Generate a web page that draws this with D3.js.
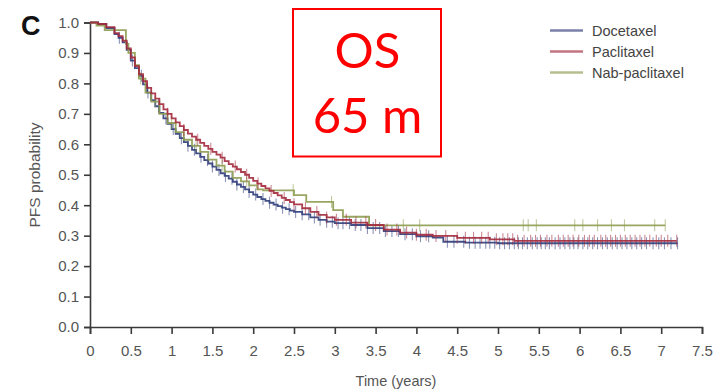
<!DOCTYPE html>
<html>
<head>
<meta charset="utf-8">
<script src="https://cdn.jsdelivr.net/npm/d3@7"></script>
<style>
  html, body { margin: 0; padding: 0; background: #fff; }
  svg { display: block; }
</style>
</head>
<body>
<svg id="chart" width="713" height="390"></svg>
<script>
// ---------- data ----------
const seriesNames = ["Docetaxel", "Paclitaxel", "Nab-paclitaxel"];

const docetaxelSteps = [
  [0,1.0],[0.1,0.995],[0.2,0.982],[0.3,0.962],[0.35,0.95],[0.4,0.935],[0.45,0.91],[0.5,0.875],
  [0.55,0.85],[0.6,0.825],[0.65,0.797],[0.7,0.77],[0.75,0.745],[0.8,0.725],[0.85,0.703],
  [0.9,0.685],[0.95,0.667],[1.0,0.65],[1.05,0.634],[1.1,0.62],[1.15,0.607],[1.2,0.595],
  [1.25,0.582],[1.3,0.57],[1.35,0.559],[1.4,0.548],[1.45,0.537],[1.5,0.527],[1.55,0.516],
  [1.6,0.505],[1.65,0.496],[1.7,0.487],[1.75,0.477],[1.8,0.468],[1.85,0.46],[1.9,0.452],
  [1.95,0.443],[2.0,0.435],[2.05,0.427],[2.1,0.42],[2.15,0.414],[2.2,0.408],[2.25,0.402],
  [2.3,0.397],[2.35,0.392],[2.4,0.387],[2.45,0.382],[2.5,0.378],[2.6,0.37],[2.7,0.36],
  [2.8,0.352],[2.9,0.346],[3.0,0.341],[3.2,0.335],[3.4,0.325],[3.6,0.315],[3.8,0.305],
  [4.0,0.298],[4.2,0.294],[4.33,0.28],[4.6,0.277],[5.0,0.275],[7.2,0.275]
];
const paclitaxelSteps = [
  [0,1.0],[0.1,0.995],[0.2,0.985],[0.3,0.965],[0.35,0.955],[0.4,0.94],[0.45,0.915],[0.5,0.885],
  [0.55,0.857],[0.6,0.83],[0.65,0.807],[0.7,0.785],[0.75,0.767],[0.8,0.75],[0.85,0.732],
  [0.9,0.715],[0.95,0.7],[1.0,0.685],[1.05,0.672],[1.1,0.66],[1.15,0.647],[1.2,0.635],
  [1.25,0.625],[1.3,0.615],[1.35,0.605],[1.4,0.595],[1.45,0.585],[1.5,0.575],[1.55,0.566],
  [1.6,0.556],[1.65,0.545],[1.7,0.535],[1.75,0.527],[1.8,0.518],[1.85,0.509],[1.9,0.5],
  [1.95,0.49],[2.0,0.48],[2.05,0.471],[2.1,0.463],[2.15,0.455],[2.2,0.447],[2.25,0.44],
  [2.3,0.432],[2.35,0.424],[2.4,0.417],[2.45,0.41],[2.5,0.403],[2.6,0.39],[2.7,0.378],
  [2.8,0.368],[2.9,0.36],[3.0,0.352],[3.2,0.343],[3.4,0.335],[3.6,0.32],[3.8,0.31],
  [4.0,0.303],[4.2,0.299],[4.5,0.293],[4.9,0.288],[5.2,0.283],[7.19,0.283]
];
const nabPaclitaxelSteps = [
  [0,1.0],[0.08,0.99],[0.18,0.975],[0.44,0.93],[0.47,0.9],[0.55,0.86],[0.6,0.816],
  [0.68,0.77],[0.75,0.74],[0.85,0.7],[0.95,0.67],[1.05,0.64],[1.15,0.615],[1.25,0.595],
  [1.35,0.575],[1.45,0.55],[1.55,0.53],[1.65,0.51],[1.75,0.49],[1.85,0.478],[1.95,0.465],
  [2.05,0.452],[2.12,0.449],[2.5,0.433],[2.65,0.411],[2.98,0.384],[3.1,0.362],
  [3.42,0.334],[7.05,0.334]
];

const docetaxelCensor = [0.36,0.52,0.63,0.71,0.84,0.93,1.02,1.12,1.2,1.28,1.36,1.44,1.5,1.58,
  1.66,1.74,1.8,1.88,1.95,2.03,2.12,2.2,2.28,2.36,2.44,2.52,2.6,2.68,2.75,2.82,2.9,2.97,
  3.04,3.1,3.18,3.25,3.32,3.4,3.47,3.55,3.62,3.7,3.78,3.86,3.95,4.05,4.15,4.38,4.46,4.58,
  4.65,4.72,4.78,4.85,4.9,4.96,5.02,5.08,5.14,5.2,5.25,5.3,5.36,5.42,5.48,5.53,5.58,5.63,
  5.7,5.76,5.82,5.88,5.93,5.98,6.04,6.1,6.16,6.22,6.28,6.34,6.4,6.46,6.52,6.58,6.64,6.7,
  6.76,6.82,6.9,6.97,7.04,7.12,7.2];
const paclitaxelCensor = [0.95,1.15,1.32,1.48,1.62,1.78,1.92,2.06,2.22,2.38,2.5,2.64,2.78,
  2.9,3.02,3.14,3.26,3.38,3.5,3.64,3.76,3.88,4.0,4.12,4.24,4.36,4.5,4.6,4.7,4.8,4.88,4.98,
  5.06,5.12,5.18,5.24,5.32,5.4,5.46,5.52,5.6,5.66,5.74,5.8,5.86,5.92,5.99,6.06,6.12,6.18,
  6.26,6.32,6.38,6.44,6.5,6.56,6.62,6.68,6.74,6.8,6.86,6.94,7.0,7.08,7.19];
const nabPaclitaxelCensor = [0.62,0.8,1.0,1.3,1.62,1.92,2.49,2.96,3.84,4.04,5.31,5.37,5.47,
  5.94,6.04,6.22,6.39,6.55,6.92,7.05];

const xTicks = [0,0.5,1,1.5,2,2.5,3,3.5,4,4.5,5,5.5,6,6.5,7,7.5];
const yTicks = [0,0.1,0.2,0.3,0.4,0.5,0.6,0.7,0.8,0.9,1.0];

const panelLabel = "C";
const xTitle = "Time (years)";
const yTitle = "PFS probability";
const boxLines = ["OS", "65 m"];

// ---------- drawing ----------
const colors = ["#2f3c7a", "#a3293c", "#8d9c50"];
const svg = d3.select("#chart");
const x = d3.scaleLinear().domain([0, 7.5]).range([90, 702]);
const y = d3.scaleLinear().domain([0, 1]).range([327, 22.5]);
const font = "'Liberation Sans', Arial, sans-serif";

// axes
const xAxis = svg.append("g").attr("transform", `translate(0,${y(0)})`)
  .call(d3.axisBottom(x).tickValues(xTicks).tickSize(7).tickPadding(11)
    .tickFormat(d => String(d)));
const yAxis = svg.append("g").attr("transform", `translate(${x(0)},0)`)
  .call(d3.axisLeft(y).tickValues(yTicks).tickSize(6).tickPadding(5)
    .tickFormat(d3.format(".1f")));
[xAxis, yAxis].forEach(g => {
  g.select(".domain").attr("stroke", "#3a3a3a").attr("stroke-width", 1.6);
  g.selectAll(".tick line").attr("stroke", "#3a3a3a").attr("stroke-width", 1.6);
  g.selectAll(".tick text").attr("fill", "#555").style("font-family", font).style("font-size", "15px");
});

// curves
const stepsAll = [docetaxelSteps, nabPaclitaxelSteps, paclitaxelSteps];
const censorAll = [docetaxelCensor, nabPaclitaxelCensor, paclitaxelCensor];
const colorOrder = [colors[0], colors[2], colors[1]];
const line = d3.line().x(d => x(d[0])).y(d => y(d[1])).curve(d3.curveStepAfter);

function survAt(steps, t) {
  let v = steps[0][1];
  for (const s of steps) { if (s[0] <= t) v = s[1]; else break; }
  return v;
}

stepsAll.forEach((steps, i) => {
  const g = svg.append("g");
  g.selectAll("line.c").data(censorAll[i]).enter().append("line")
    .attr("x1", d => x(d)).attr("x2", d => x(d))
    .attr("y1", d => y(survAt(steps, d)) - 6)
    .attr("y2", d => y(survAt(steps, d)) + 6)
    .attr("stroke", colorOrder[i]).attr("stroke-opacity", 0.55).attr("stroke-width", 1.1);
  g.append("path").datum(steps).attr("d", line)
    .attr("fill", "none").attr("stroke", colorOrder[i]).attr("stroke-width", 1.8)
    .attr("stroke-opacity", 0.9);
});

// titles
svg.append("text").attr("x", 396).attr("y", 386).attr("text-anchor", "middle")
  .attr("fill", "#555").style("font-family", font).style("font-size", "14.5px").text(xTitle);
svg.append("text").attr("transform", "translate(40,175) rotate(-90)").attr("text-anchor", "middle")
  .attr("fill", "#555").style("font-family", font).style("font-size", "15.5px").text(yTitle);
svg.append("text").attr("x", 21).attr("y", 35).attr("fill", "#111")
  .style("font-family", font).style("font-size", "27px").style("font-weight", "bold").text(panelLabel);

// legend
const legend = svg.append("g");
seriesNames.forEach((name, i) => {
  const ly = 30.5 + i * 21;
  legend.append("line").attr("x1", 550).attr("x2", 583).attr("y1", ly).attr("y2", ly)
    .attr("stroke", colors[i]).attr("stroke-width", 2.5).attr("stroke-opacity", 0.65);
  legend.append("text").attr("x", 592).attr("y", ly + 5).attr("fill", "#444")
    .style("font-family", font).style("font-size", "14.5px").text(name);
});

// red annotation box
svg.append("rect").attr("x", 293).attr("y", 9).attr("width", 148).attr("height", 147.5)
  .attr("fill", "#fff").attr("stroke", "#ff0000").attr("stroke-width", 2);
boxLines.forEach((t, i) => {
  svg.append("text").attr("x", 367.5).attr("y", 68 + i * 65).attr("text-anchor", "middle")
    .attr("fill", "#ff0000").style("font-family", "Lato, 'Open Sans', sans-serif")
    .style("font-size", "49px").text(t);
});
</script>
</body>
</html>
